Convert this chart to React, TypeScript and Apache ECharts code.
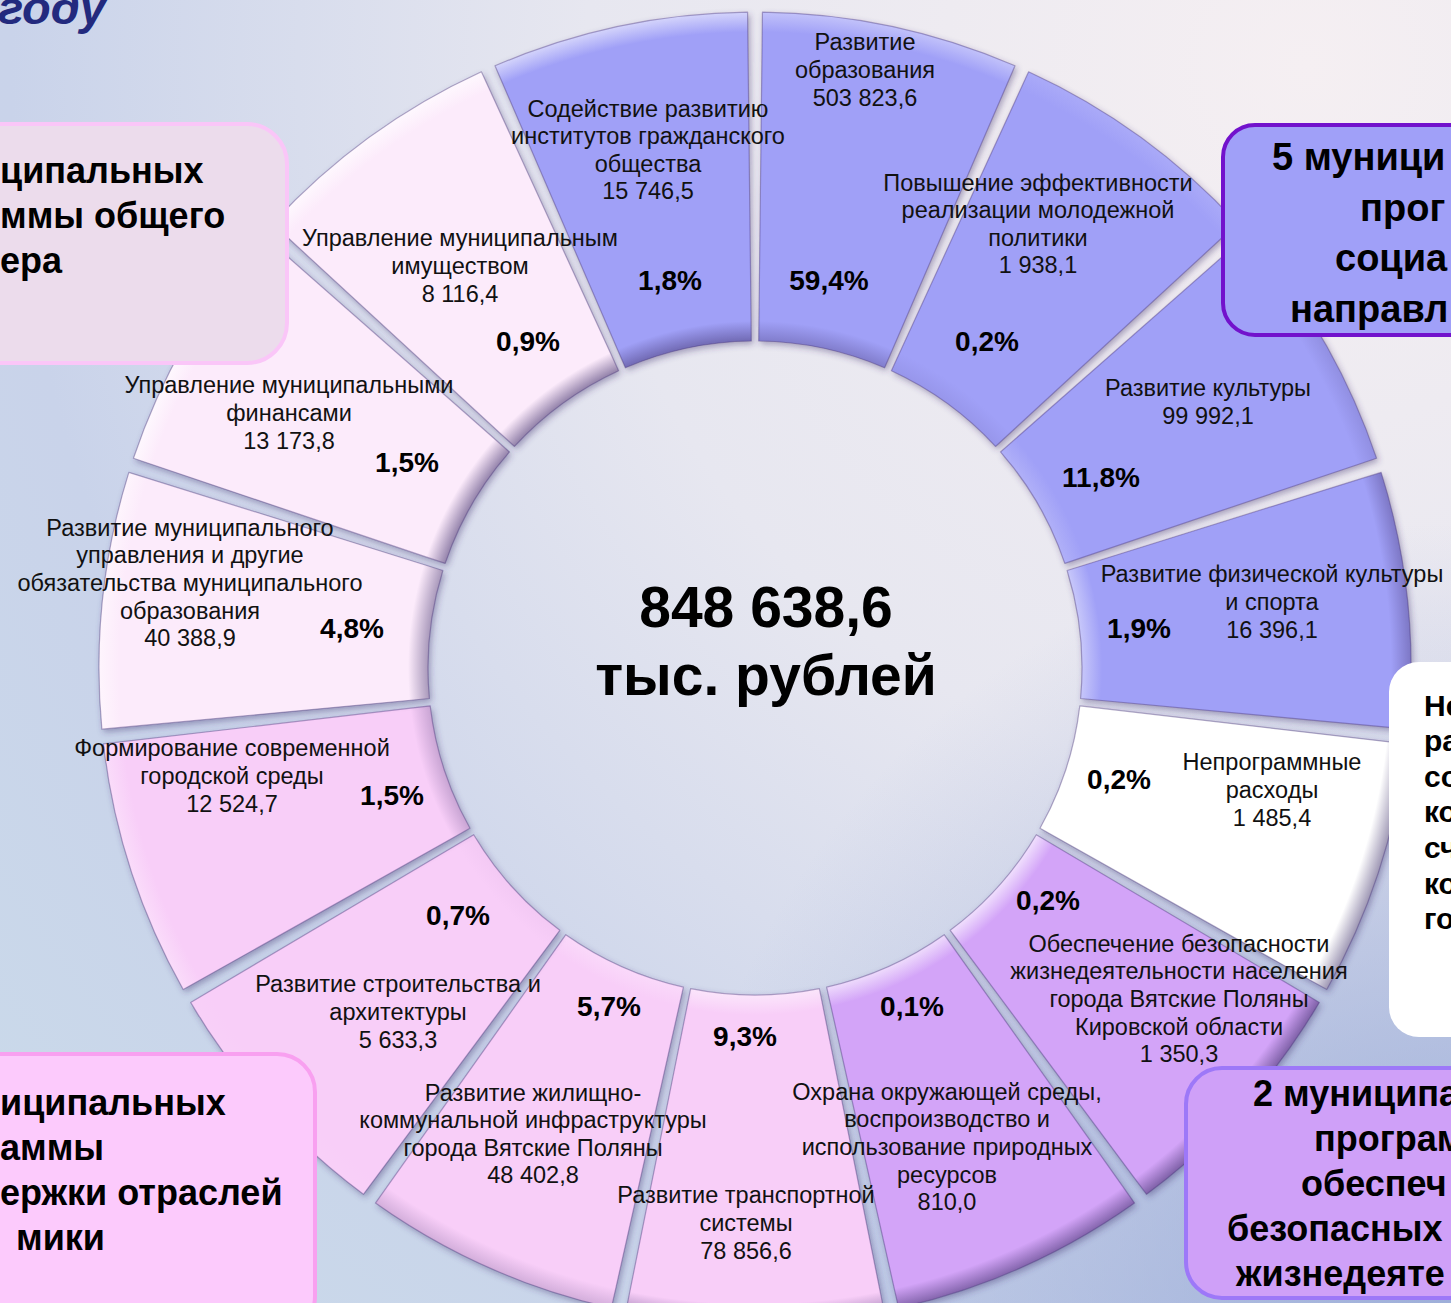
import React, { useEffect, useRef } from "react";
import * as echarts from "echarts";

// ---------- data ----------
const programNames = [
  "Развитие\nобразования",
  "Повышение эффективности\nреализации молодежной\nполитики",
  "Развитие культуры",
  "Развитие физической культуры\nи спорта",
  "Непрограммные\nрасходы",
  "Обеспечение безопасности\nжизнедеятельности населения\nгорода Вятские Поляны\nКировской области",
  "Охрана окружающей среды,\nвоспроизводство и\nиспользование природных\nресурсов",
  "Развитие транспортной\nсистемы",
  "Развитие жилищно-\nкоммунальной инфраструктуры\nгорода Вятские Поляны",
  "Развитие строительства и\nархитектуры",
  "Формирование современной\nгородской среды",
  "Развитие муниципального\nуправления и другие\nобязательства муниципального\nобразования",
  "Управление муниципальными\nфинансами",
  "Управление муниципальным\nимуществом",
  "Содействие развитию\nинститутов гражданского\nобщества",
];
const amounts = [
  503823.6, 1938.1, 99992.1, 16396.1, 1485.4, 1350.3, 810.0, 78856.6,
  48402.8, 5633.3, 12524.7, 40388.9, 13173.8, 8116.4, 15746.5,
];
const shares = [59.4, 0.2, 11.8, 1.9, 0.2, 0.2, 0.1, 9.3, 5.7, 0.7, 1.5, 4.8, 1.5, 0.9, 1.8];
// every programme is drawn as an equal slice in the source picture
const sliceWeights = [1, 1, 1, 1, 1, 1, 1, 1, 1, 1, 1, 1, 1, 1, 1];
const totalUnit = "тыс. рублей";

// side boxes (text fragments visible in the cropped picture)
const boxTopLeftLines = ["ципальных", "ммы общего", "ера"];
const boxTopRightLines = ["5 муници", "прог", "социа", "направл"];
const boxRightLines = ["Не", "ра", "со", "ко", "сч", "ко", "го"];
const boxBottomLeftLines = ["иципальных", "аммы", "ержки отраслей", "мики"];
const boxBottomRightLines = ["2 муниципа", "програм", "обеспеч", "безопасных", "жизнедеяте"];
const headerWord = "году";

// ---------- layout & style ----------
const CX = 755;
const CY = 668;
const R0 = 327;
const R1 = 656;
const FONT = '"Liberation Sans", Arial, sans-serif';

const BLUE = "#a0a0f7";
const LPINK = "#fcebfb";
const PINK = "#f8cef8";
const PURPLE = "#d3a4f8";
const WHITE = "#ffffff";
const sliceColors = [BLUE, BLUE, BLUE, BLUE, WHITE, PURPLE, PURPLE, PINK, PINK, PINK, PINK, LPINK, LPINK, LPINK, BLUE];

const namePos: [number, number][] = [
  [865, 70], [1038, 224], [1208, 402], [1272, 602], [1272, 790],
  [1179, 999], [947, 1147], [746, 1223], [533, 1134], [398, 1012],
  [232, 776], [190, 583], [289, 413], [460, 266], [648, 150],
];
const pctPos: [number, number][] = [
  [829, 280], [987, 341], [1101, 477], [1139, 628], [1119, 779],
  [1048, 900], [912, 1006], [745, 1036], [609, 1006], [458, 915],
  [392, 795], [352, 628], [407, 462], [528, 341], [670, 280],
];

function hexToRgb(h: string) {
  const n = parseInt(h.slice(1), 16);
  return [(n >> 16) & 255, (n >> 8) & 255, n & 255];
}
function mix(a: string, b: string, t: number) {
  const A = hexToRgb(a);
  const B = hexToRgb(b);
  const c = A.map((v, i) => Math.round(v + (B[i] - v) * t));
  return `rgb(${c[0]},${c[1]},${c[2]})`;
}
function tone(base: string, t: number) {
  return t >= 0 ? mix(base, "#ffffff", 0.65 * t) : mix(base, "#3a2a66", 0.55 * -t);
}
function fmtRu(v: number) {
  const [i, d] = v.toFixed(1).split(".");
  return i.replace(/\B(?=(\d{3})+(?!\d))/g, " ") + "," + d;
}

function sliceFill(i: number, n: number) {
  const base = sliceColors[i];
  const th = (((i + 0.5) * 360) / n) * (Math.PI / 180);
  const dot = (Math.cos(th) - Math.sin(th)) / Math.SQRT2;
  const outer = tone(base, dot);
  const inner = tone(base, -dot);
  return {
    type: "radial",
    x: CX,
    y: CY,
    r: R1,
    global: true,
    colorStops: [
      { offset: 0, color: inner },
      { offset: R0 / R1, color: inner },
      { offset: (R0 + 20) / R1, color: base },
      { offset: (R1 - 20) / R1, color: base },
      { offset: 1, color: outer },
    ],
  };
}

export default function App() {
  const ref = useRef<HTMLDivElement>(null);

  useEffect(() => {
    if (!ref.current) return;
    const chart = echarts.init(ref.current, null, { renderer: "svg" });
    const n = sliceWeights.length;
    const total = amounts.reduce((s, v) => s + v, 0);

    const boxText = (lines: string[], xs: number[] | number, y0: number, step: number, size: number) =>
      lines.map((t, k) => ({
        type: "text",
        z: 30,
        x: Array.isArray(xs) ? xs[k] : xs,
        y: y0 + k * step,
        style: {
          text: t,
          fill: "#000",
          fontSize: size,
          fontWeight: "bold",
          fontFamily: FONT,
          align: "left",
          verticalAlign: "middle",
        },
      }));

    const pieBase = {
      type: "pie",
      center: [CX, CY],
      radius: [R0, R1],
      startAngle: 90,
      clockwise: true,
      padAngle: 1.3,
      silent: true,
      emphasis: { disabled: true },
      labelLine: { show: false },
    };

    chart.setOption({
      animation: false,
      series: [
        {
          ...pieBase,
          z: 2,
          data: programNames.map((name, i) => ({
            name,
            value: sliceWeights[i],
            itemStyle: {
              color: sliceFill(i, n),
              borderColor: "rgba(70,50,120,0.4)",
              borderWidth: 1.2,
              shadowBlur: 6,
              shadowOffsetX: 2,
              shadowOffsetY: 3,
              shadowColor: "rgba(60,50,110,0.4)",
            },
          })),
          label: {
            show: true,
            position: "inside",
            formatter: (p: any) => `${programNames[p.dataIndex]}\n${fmtRu(amounts[p.dataIndex])}`,
            fontSize: 23.5,
            lineHeight: 27.6,
            color: "#111",
            fontFamily: FONT,
            align: "center",
            overflow: "none",
          },
          labelLayout: (p: any) => ({
            x: namePos[p.dataIndex][0],
            y: namePos[p.dataIndex][1],
            align: "center",
            verticalAlign: "middle",
          }),
        },
        {
          ...pieBase,
          z: 3,
          data: programNames.map((name, i) => ({
            name,
            value: sliceWeights[i],
            itemStyle: { color: "rgba(0,0,0,0)" },
          })),
          label: {
            show: true,
            position: "inside",
            formatter: (p: any) => shares[p.dataIndex].toFixed(1).replace(".", ",") + "%",
            fontSize: 28,
            fontWeight: "bold",
            color: "#000",
            fontFamily: FONT,
          },
          labelLayout: (p: any) => ({
            x: pctPos[p.dataIndex][0],
            y: pctPos[p.dataIndex][1],
            align: "center",
            verticalAlign: "middle",
          }),
        },
      ],
      graphic: [
        {
          type: "text",
          z: 30,
          x: 106,
          y: 7,
          style: {
            text: headerWord,
            fill: "#232a7e",
            fontSize: 47,
            fontWeight: "bold",
            fontStyle: "italic",
            fontFamily: FONT,
            align: "right",
            verticalAlign: "middle",
            shadowBlur: 3,
            shadowOffsetX: 2,
            shadowOffsetY: 2,
            shadowColor: "rgba(0,0,40,0.5)",
          },
        },
        {
          type: "text",
          z: 30,
          x: 766,
          y: 641,
          style: {
            text: `${fmtRu(total)}\n${totalUnit}`,
            fill: "#000",
            fontSize: 57,
            fontWeight: "bold",
            fontFamily: FONT,
            lineHeight: 68,
            align: "center",
            verticalAlign: "middle",
          },
        },
        // top-left box
        {
          type: "rect",
          z: 20,
          shape: { x: -40, y: 124, width: 327, height: 239, r: 40 },
          style: { fill: "#ecdcec", stroke: "#fac6f8", lineWidth: 4 },
        },
        ...boxText(boxTopLeftLines, 0, 170, 45, 36),
        // top-right box
        {
          type: "rect",
          z: 20,
          shape: { x: 1223, y: 125, width: 300, height: 210, r: 32 },
          style: { fill: "#a0a0f8", stroke: "#7212cc", lineWidth: 4 },
        },
        ...boxText(boxTopRightLines, [1272, 1360, 1335, 1290], 157, 50.5, 38),
        // right white box
        {
          type: "rect",
          z: 20,
          shape: { x: 1389, y: 662, width: 140, height: 375, r: 30 },
          style: { fill: "#ffffff" },
        },
        ...boxText(boxRightLines, 1424, 705, 35.6, 30),
        // bottom-left box
        {
          type: "rect",
          z: 20,
          shape: { x: -40, y: 1054, width: 355, height: 280, r: 38 },
          style: { fill: "#fccafc", stroke: "#f8a0f0", lineWidth: 4 },
        },
        ...boxText(boxBottomLeftLines, [0, 0, 0, 16], 1102, 45, 36),
        // bottom-right box
        {
          type: "rect",
          z: 20,
          shape: { x: 1186, y: 1068, width: 300, height: 230, r: 36 },
          style: { fill: "#cfa0f8", stroke: "#9d78f8", lineWidth: 4 },
        },
        ...boxText(boxBottomRightLines, [1253, 1314, 1301, 1227, 1236], 1093, 45, 36),
      ],
    });
    return () => chart.dispose();
  }, []);

  return (
    <div
      style={{
        position: "absolute",
        left: 0,
        top: 0,
        width: 1451,
        height: 1303,
        overflow: "hidden",
        background:
          "radial-gradient(circle at 100% 100%, rgba(150,168,214,0.85) 0%, rgba(150,168,214,0) 40%), radial-gradient(circle at 90% 5%, #f5eff2 0%, #e7e7f0 40%, #c9d3ea 72%, #cadbea 100%)",
      }}
    >
      <div ref={ref} style={{ width: 1451, height: 1303 }} />
    </div>
  );
}
